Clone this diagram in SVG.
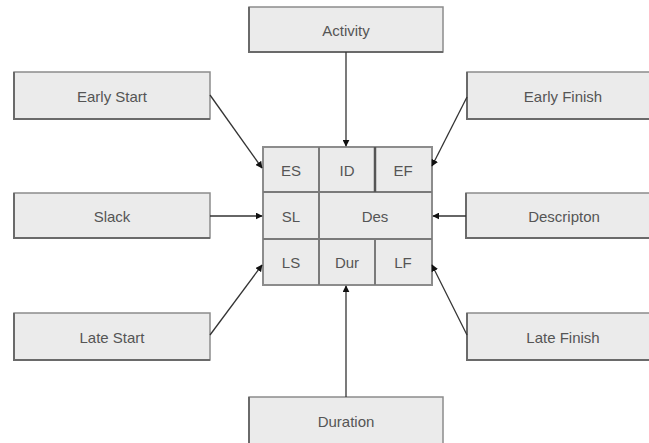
<svg xmlns="http://www.w3.org/2000/svg" width="649" height="443" viewBox="0 0 649 443">
<defs>
<style>
.box{fill:#ebebeb;stroke:#8c8c8c;stroke-width:1.5}
.edge{fill:none;stroke:#6a6a6a;stroke-width:2}
.lbl{font-family:"Liberation Sans",Arial,sans-serif;font-size:15px;fill:#555;text-anchor:middle;dominant-baseline:central}
.grid{fill:#ebebeb;stroke:#8c8c8c;stroke-width:2}
.div{stroke:#7a7a7a;stroke-width:2}
.con{stroke:#333;stroke-width:1.3;fill:none;marker-end:url(#ah)}
</style>
<marker id="ah" viewBox="0 0 10 10" refX="9" refY="5" markerWidth="7" markerHeight="7" orient="auto" markerUnits="userSpaceOnUse">
<path d="M0,0 L10,5 L0,10 z" fill="#111"/>
</marker>
</defs>
<rect width="649" height="443" fill="#fff"/>
<g id="activity"><rect class="box" x="249" y="7" width="194" height="45"/><path class="edge" d="M249,7 V52 H443"/><text class="lbl" x="346" y="30">Activity</text></g>
<g id="early-start"><rect class="box" x="14" y="72" width="196" height="47"/><path class="edge" d="M14,72 V119 H210"/><text class="lbl" x="112" y="96">Early Start</text></g>
<g id="early-finish"><rect class="box" x="467" y="72" width="196" height="47"/><path class="edge" d="M467,72 V119 H663"/><text class="lbl" x="563" y="96">Early Finish</text></g>
<g id="slack"><rect class="box" x="14" y="193" width="196" height="45"/><path class="edge" d="M14,193 V238 H210"/><text class="lbl" x="112" y="216">Slack</text></g>
<g id="description"><rect class="box" x="466" y="193" width="196" height="45"/><path class="edge" d="M466,193 V238 H662"/><text class="lbl" x="564" y="216">Descripton</text></g>
<g id="late-start"><rect class="box" x="14" y="313" width="196" height="47"/><path class="edge" d="M14,313 V360 H210"/><text class="lbl" x="112" y="337">Late Start</text></g>
<g id="late-finish"><rect class="box" x="467" y="313" width="196" height="47"/><path class="edge" d="M467,313 V360 H663"/><text class="lbl" x="563" y="337">Late Finish</text></g>
<g id="duration"><rect class="box" x="249" y="397" width="194" height="50"/><path class="edge" d="M249,397 V447"/><text class="lbl" x="346" y="421">Duration</text></g>
<g id="node-grid">
<rect class="grid" x="263" y="147" width="169" height="138"/>
<line class="div" x1="263" y1="192" x2="432" y2="192"/>
<line class="div" x1="263" y1="239" x2="432" y2="239"/>
<line class="div" x1="319" y1="147" x2="319" y2="285"/>
<line class="div" x1="375" y1="147" x2="375" y2="192" style="stroke:#555;stroke-width:2.5"/>
<line class="div" x1="375" y1="239" x2="375" y2="285"/>
<text class="lbl" x="291" y="170">ES</text>
<text class="lbl" x="347" y="170">ID</text>
<text class="lbl" x="403" y="170">EF</text>
<text class="lbl" x="291" y="216">SL</text>
<text class="lbl" x="375" y="216">Des</text>
<text class="lbl" x="291" y="262">LS</text>
<text class="lbl" x="347" y="262">Dur</text>
<text class="lbl" x="403" y="262">LF</text>
</g>
<g id="connectors">
<line class="con" x1="346" y1="52" x2="346" y2="146"/>
<line class="con" x1="210" y1="95" x2="262" y2="168"/>
<line class="con" x1="467" y1="97" x2="432" y2="166"/>
<line class="con" x1="210" y1="216" x2="262" y2="216"/>
<line class="con" x1="466" y1="216" x2="433" y2="216"/>
<line class="con" x1="210" y1="335" x2="262" y2="265"/>
<line class="con" x1="467" y1="335" x2="432" y2="265"/>
<line class="con" x1="346" y1="397" x2="346" y2="286"/>
</g>
</svg>
